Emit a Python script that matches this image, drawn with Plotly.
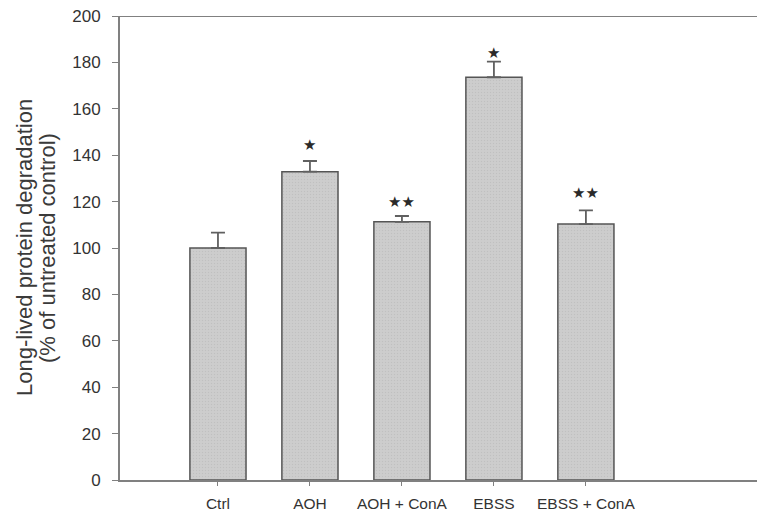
import plotly.graph_objects as go

categories = ["Ctrl", "AOH", "AOH + ConA", "EBSS", "EBSS + ConA"]
values = [100.0, 132.9, 111.3, 173.6, 110.3]
errors = [6.6, 4.6, 2.5, 6.7, 5.9]
marks = ["", "★", "★★", "★", "★★"]
mark_y = [None, 144.4, 120.0, 184.0, 123.6]
y_ticks = [0, 20, 40, 60, 80, 100, 120, 140, 160, 180, 200]

x_pos = list(range(len(categories)))
FONT = "Liberation Sans, Arial, sans-serif"

fig = go.Figure()
fig.add_trace(go.Bar(
    x=x_pos, y=values, width=0.61,
    marker=dict(color="#c9c9c9", line=dict(color="#555555", width=1.5),
                pattern=dict(shape=".", fgcolor="#b4b4b4", bgcolor="#cdcdcd", size=3, solidity=0.2)),
    error_y=dict(type="data", array=errors, arrayminus=[0]*len(errors), symmetric=False,
                 color="#606060", thickness=1.8, width=7),
    showlegend=False,
))

for xp, m, my in zip(x_pos, marks, mark_y):
    if m:
        fig.add_annotation(x=xp, y=my, text=m, showarrow=False, yanchor="middle",
                           font=dict(family="DejaVu Sans", size=15, color="#2a2a2a"))

# y-axis title as two rotated lines
fig.add_annotation(xref="paper", yref="paper", x=-(120 - 24) / 637, y=0.5, text="Long-lived protein degradation",
                   textangle=-90, showarrow=False, xanchor="center", yanchor="middle",
                   font=dict(family=FONT, size=22, color="#3a3a3a"))
fig.add_annotation(xref="paper", yref="paper", x=-(120 - 47) / 637, y=0.5, text="(% of untreated control)",
                   textangle=-90, showarrow=False, xanchor="center", yanchor="middle",
                   font=dict(family=FONT, size=22, color="#3a3a3a"))

axis_line = dict(showline=True, linecolor="#808080", linewidth=2)
fig.update_layout(
    width=757, height=515,
    margin=dict(l=120, r=0, t=16, b=35, autoexpand=False),
    plot_bgcolor="white", paper_bgcolor="white",
    font=dict(family=FONT, color="#333333"),
    xaxis=dict(range=[-1.065, 5.86], tickmode="array", tickvals=x_pos, ticktext=categories,
               ticks="outside", ticklen=4, tickcolor="#808080", showgrid=False, zeroline=False,
               tickfont=dict(size=15.5), automargin=False, ticklabelstandoff=4,
               ticklabeloverflow="allow", **axis_line),
    yaxis=dict(range=[0, 200], tickmode="array", tickvals=y_ticks, ticks="outside", ticklen=6,
               tickcolor="#808080", showgrid=False, zeroline=False, tickfont=dict(size=17),
               automargin=False, ticklabelstandoff=8, ticklabeloverflow="allow", **axis_line),
)
fig.add_shape(type="line", xref="paper", yref="y", x0=0, x1=1, y0=200, y1=200,
              line=dict(color="#808080", width=2))

fig.write_html("out.html", config={"displayModeBar": False},
               post_script="document.body.style.margin='0';document.body.style.overflow='hidden';")
